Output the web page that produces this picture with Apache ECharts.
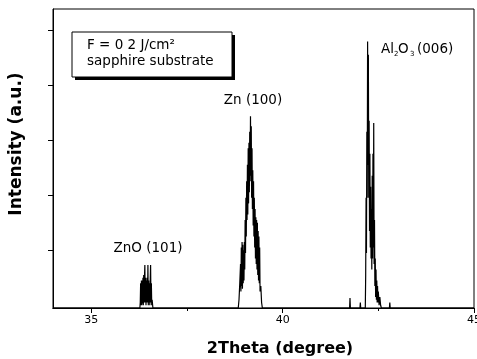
<!DOCTYPE html>
<html><head><meta charset="utf-8">
<script src="https://cdn.jsdelivr.net/npm/echarts@6/dist/echarts.min.js"></script>
<style>html,body{margin:0;padding:0;background:#fff}#c{width:477px;height:359px}</style>
</head><body><div id="c"></div>
<script>
// 2Theta (degree) and intensity (a.u.)
const twoTheta = [
  34.00, 36.27, 36.28, 36.29, 36.30, 36.31, 36.32, 36.33, 36.34, 36.35, 36.36, 36.37, 36.38, 36.39, 36.40,
  36.41, 36.42, 36.43, 36.44, 36.45, 36.46, 36.47, 36.48, 36.49, 36.50, 36.51, 36.52, 36.53, 36.54, 36.55,
  36.56, 36.57, 36.58, 36.59, 36.61,
  38.84, 38.86, 38.88, 38.90, 38.91, 38.92, 38.93, 38.94, 38.95, 38.96, 38.97, 38.98, 38.99, 39.00, 39.01,
  39.02, 39.03, 39.04, 39.05, 39.06, 39.07, 39.08, 39.09, 39.10, 39.11, 39.12, 39.13, 39.14, 39.15, 39.16,
  39.17, 39.18, 39.19, 39.20, 39.21, 39.22, 39.23, 39.24, 39.25, 39.26, 39.27, 39.28, 39.29, 39.30, 39.31,
  39.32, 39.33, 39.34, 39.35, 39.36, 39.37, 39.38, 39.39, 39.40, 39.41, 39.43, 39.45, 39.47,
  41.75, 41.76, 41.77, 42.02, 42.03, 42.04,
  42.16, 42.17, 42.18, 42.19, 42.20, 42.21, 42.22, 42.23, 42.24, 42.25, 42.26, 42.27, 42.28, 42.29, 42.30,
  42.31, 42.32, 42.33, 42.34, 42.35, 42.36, 42.37, 42.38, 42.39, 42.40, 42.41, 42.42, 42.43, 42.44, 42.45,
  42.46, 42.47, 42.48, 42.49, 42.50, 42.52, 42.54, 42.56, 42.58,
  42.79, 42.80, 42.81, 45.00
];
const intensity = [
  0, 0, 0.10, 0.45, 0.05, 0.50, 0.05, 0.50, 0.08, 0.55, 0.05, 0.60, 0.10, 0.55, 0.78,
  0.10, 0.55, 0.05, 0.50, 0.10, 0.55, 0.10, 0.78, 0.05, 0.50, 0.10, 0.45, 0.05, 0.50, 0.78,
  0.10, 0.45, 0.05, 0.15, 0,
  0, 0.15, 0.45, 0.80, 0.30, 1.10, 0.40, 1.20, 0.35, 1.15, 0.45, 1.05, 0.50, 1.20, 0.70,
  1.60, 1.00, 2.00, 1.30, 2.30, 1.60, 2.60, 1.70, 2.90, 1.90, 3.00, 2.10, 3.20, 2.30, 3.48,
  2.40, 3.30, 2.00, 2.90, 1.80, 2.50, 1.50, 2.30, 1.30, 2.00, 1.10, 1.80, 0.90, 1.65, 0.80,
  1.60, 0.70, 1.55, 0.60, 1.40, 0.50, 1.30, 0.45, 1.10, 0.30, 0.40, 0.10, 0,
  0, 0.18, 0, 0, 0.10, 0,
  0, 0.60, 2.00, 1.00, 3.20, 2.00, 4.84, 2.60, 4.60, 2.00, 3.40, 1.40, 2.80, 1.10, 2.20,
  0.90, 1.80, 0.70, 2.40, 0.90, 2.80, 1.10, 3.36, 0.80, 1.60, 0.40, 0.90, 0.20, 0.70, 0.15,
  0.50, 0.10, 0.40, 0.10, 0.30, 0.05, 0.20, 0.05, 0,
  0, 0.10, 0, 0
];
const xTickLabels = [35, 40, 45];
const xMinorTicks = [37.5, 42.5];

const chart = echarts.init(document.getElementById('c'), null, {renderer: 'canvas'});
const data = twoTheta.map((x, i) => [x, intensity[i]]);
const txt = '#000';
const annoFont = 'DejaVu Sans';
chart.setOption({
  animation: false,
  backgroundColor: '#fff',
  grid: {left: 53, top: 9, right: 3, bottom: 51, containLabel: false, outerBoundsMode: 'none',
         show: true, borderColor: '#000', borderWidth: 1, backgroundColor: 'transparent'},
  xAxis: [{
    type: 'value', min: 34, max: 45,
    axisLine: {lineStyle: {color: '#000', width: 1}},
    axisTick: {show: true, length: 5, inside: false, customValues: xTickLabels, lineStyle: {color: '#000'}},
    axisLabel: {customValues: xTickLabels, color: txt, fontFamily: annoFont, fontSize: 11, margin: 7, showMaxLabel: true, hideOverlap: false},
    splitLine: {show: false}
  }, {
    type: 'value', min: 34, max: 45, position: 'bottom', offset: 0,
    axisLine: {show: true, lineStyle: {color: '#000', width: 1}},
    axisTick: {show: true, length: 3, customValues: xMinorTicks, lineStyle: {color: '#000'}},
    axisLabel: {show: false},
    splitLine: {show: false}
  }],
  yAxis: {
    type: 'value', min: 0, max: 5.43,
    axisLine: {show: true, lineStyle: {color: '#000', width: 1}},
    axisTick: {show: true, length: 5, inside: false, customValues: [1.05, 2.05, 3.05, 4.05, 5.05], lineStyle: {color: '#000'}},
    axisLabel: {show: false},
    splitLine: {show: false}
  },
  series: [{
    type: 'line', xAxisIndex: 0, data: data, showSymbol: false, symbol: 'none',
    lineStyle: {color: '#000', width: 1.2}, clip: true
  }],
  graphic: [
    {type: 'text', x: 17, y: 144, rotation: Math.PI / 2, style: {text: 'Intensity (a.u.)', fill: txt, font: 'bold 17px "DejaVu Sans"', align: 'center', verticalAlign: 'middle'}},
    {type: 'text', x: 280, y: 349, style: {text: '2Theta (degree)', fill: txt, font: 'bold 16px "DejaVu Sans"', align: 'center', verticalAlign: 'middle'}},
    {type: 'rect', shape: {x: 75, y: 35, width: 160, height: 45}, style: {fill: '#000'}},
    {type: 'rect', shape: {x: 72, y: 32, width: 160, height: 45}, style: {fill: '#fff', stroke: '#000', lineWidth: 1}},
    {type: 'text', x: 87, y: 45, style: {text: 'F = 0 2 J/cm²', fill: txt, font: '13.5px "DejaVu Sans"', verticalAlign: 'middle'}},
    {type: 'text', x: 87, y: 61, style: {text: 'sapphire substrate', fill: txt, font: '13.5px "DejaVu Sans"', verticalAlign: 'middle'}},
    {type: 'text', x: 148, y: 248, style: {text: 'ZnO (101)', fill: txt, font: '13.5px "DejaVu Sans"', align: 'center', verticalAlign: 'middle'}},
    {type: 'text', x: 253, y: 100, style: {text: 'Zn (100)', fill: txt, font: '13.5px "DejaVu Sans"', align: 'center', verticalAlign: 'middle'}},
    {type: 'text', x: 381, y: 49, style: {text: 'Al', fill: txt, font: '13.5px "DejaVu Sans"', verticalAlign: 'middle'}},
    {type: 'text', x: 394, y: 54, style: {text: '2', fill: txt, font: '7px "DejaVu Sans"', verticalAlign: 'middle'}},
    {type: 'text', x: 398, y: 49, style: {text: 'O', fill: txt, font: '13.5px "DejaVu Sans"', verticalAlign: 'middle'}},
    {type: 'text', x: 410, y: 54, style: {text: '3', fill: txt, font: '7px "DejaVu Sans"', verticalAlign: 'middle'}},
    {type: 'text', x: 417, y: 49, style: {text: '(006)', fill: txt, font: '13.5px "DejaVu Sans"', verticalAlign: 'middle'}}
  ]
});
</script></body></html>
